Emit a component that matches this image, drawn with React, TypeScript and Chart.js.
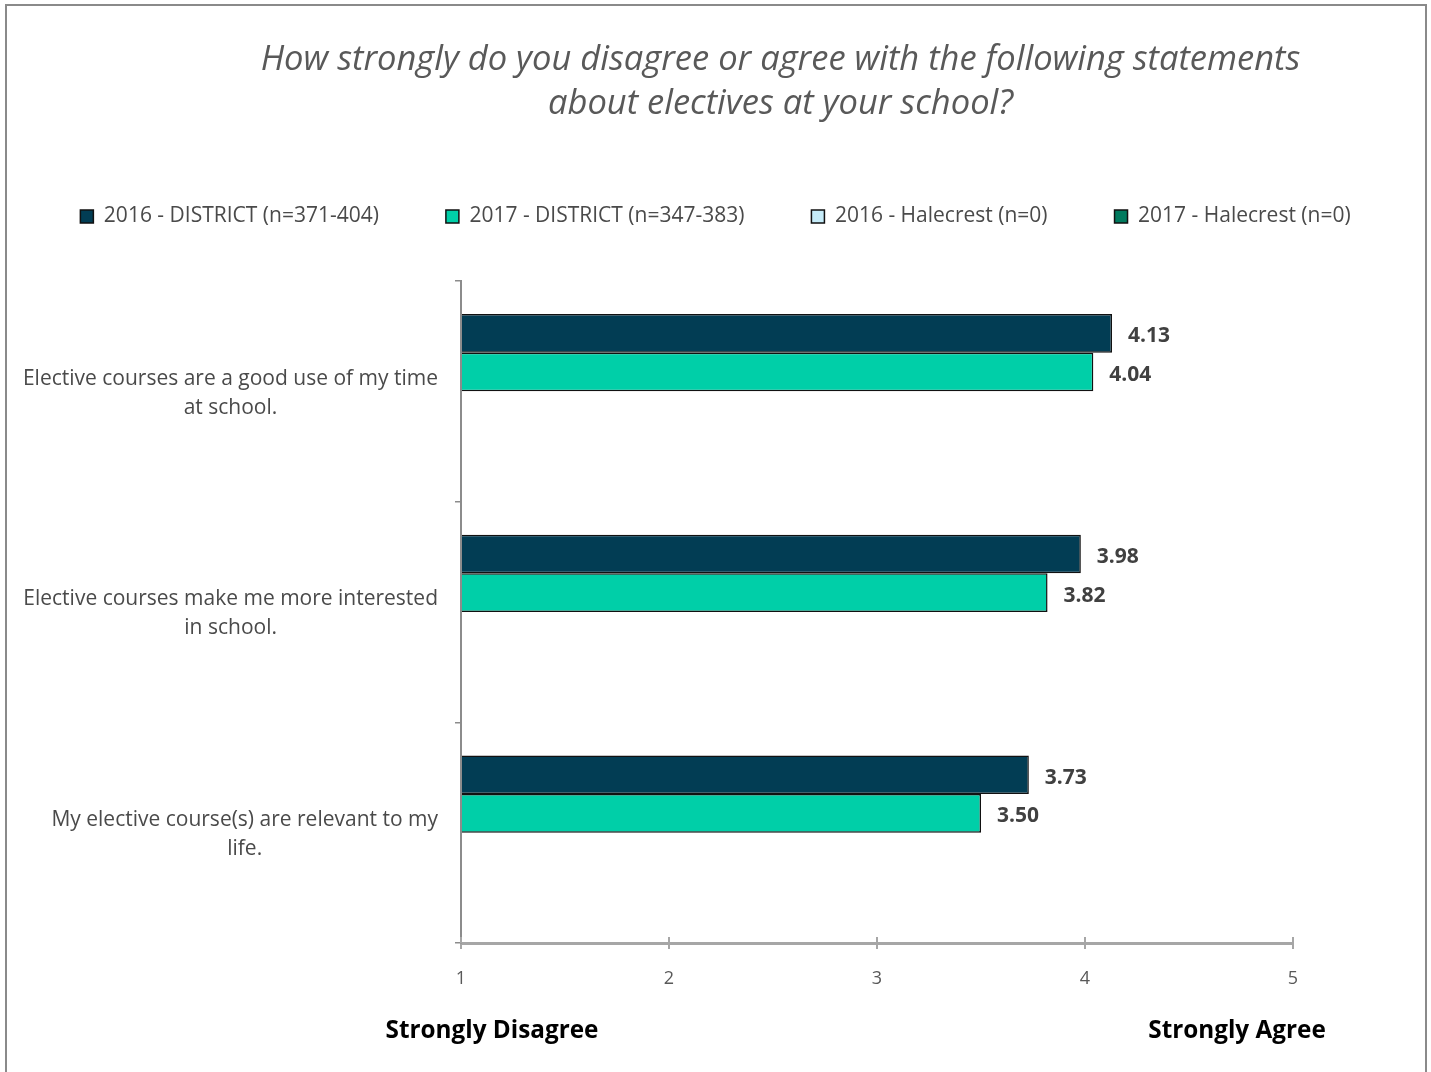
import React, { useEffect, useRef } from 'react';
import { Chart, registerables } from 'chart.js';

Chart.register(...registerables);

// ---------- data ----------
const titleLines = [
  'How strongly do you disagree or agree with the following statements',
  'about electives at your school?',
];
const categories = [
  ['Elective courses are a good use of my time', 'at school.'],
  ['Elective courses make me more interested', 'in school.'],
  ['My elective course(s) are relevant to my', 'life.'],
];
const seriesNames = [
  '2016 - DISTRICT (n=371-404)',
  '2017 - DISTRICT (n=347-383)',
  '2016 - Halecrest (n=0)',
  '2017 - Halecrest (n=0)',
];
const district2016 = [4.13, 3.98, 3.73];
const district2017 = [4.04, 3.82, 3.5];
const halecrest2016: (number | null)[] = [null, null, null];
const halecrest2017: (number | null)[] = [null, null, null];
const xMin = 1;
const xMax = 5;
const xStep = 1;
const scaleEndLabels = ['Strongly Disagree', 'Strongly Agree'];

const seriesColors = ['#023D54', '#00CFA8', '#C6ECF9', '#007A5E'];

const FONT = '"Open Sans"';

export default function App() {
  const ref = useRef<HTMLCanvasElement | null>(null);

  useEffect(() => {
    document.body.style.margin = '0';
    const canvas = ref.current;
    if (!canvas) return;

    const frame = {
      id: 'frame',
      beforeDraw(chart: any) {
        const ctx = chart.ctx;
        ctx.save();
        ctx.fillStyle = '#ffffff';
        ctx.fillRect(0, 0, chart.width, chart.height);
        ctx.strokeStyle = '#8a8a8a';
        ctx.lineWidth = 2;
        ctx.strokeRect(6, 5, 1420, 1100);
        ctx.restore();
      },
    };

    const layoutTweaks = {
      id: 'layoutTweaks',
      afterInit(chart: any) {
        const lg = chart.legend;
        if (lg && !lg.__patched) {
          const orig = lg.fit.bind(lg);
          lg.fit = function () {
            orig();
            this.height += 44;
          };
          lg.__patched = true;
        }
      },
      afterLayout(chart: any) {
        if (chart.titleBlock) chart.titleBlock.left = 130;
      },
    };

    const annotations = {
      id: 'annotations',
      afterDatasetsDraw(chart: any) {
        const ctx = chart.ctx;
        ctx.save();
        // value labels
        ctx.font = `bold 21px ${FONT}`;
        ctx.fillStyle = '#404040';
        ctx.textAlign = 'left';
        ctx.textBaseline = 'middle';
        chart.data.datasets.forEach((ds: any, di: number) => {
          const meta = chart.getDatasetMeta(di);
          meta.data.forEach((el: any, i: number) => {
            const v = ds.data[i];
            if (v == null) return;
            ctx.fillText(Number(v).toFixed(2), el.x + 16, el.y + 3);
          });
        });
        // upward halves of x tick marks
        const xs = chart.scales.x;
        const area = chart.chartArea;
        ctx.strokeStyle = '#A6A6A6';
        ctx.lineWidth = 2;
        xs.ticks.forEach((t: any) => {
          const px = xs.getPixelForValue(t.value);
          ctx.beginPath();
          ctx.moveTo(px, area.bottom - 6);
          ctx.lineTo(px, area.bottom);
          ctx.stroke();
        });
        ctx.restore();
      },
      afterDraw(chart: any) {
        const ctx = chart.ctx;
        const area = chart.chartArea;
        const ys = chart.scales.y;
        ctx.save();
        // category labels: right-aligned blocks, lines centered within block
        ctx.font = `21px ${FONT}`;
        ctx.fillStyle = '#4a4a4a';
        ctx.textBaseline = 'middle';
        ctx.textAlign = 'center';
        const lh = 29;
        chart.data.labels.forEach((lab: any, i: number) => {
          const lines: string[] = Array.isArray(lab) ? lab : [lab];
          const w = Math.max(...lines.map((l) => ctx.measureText(l).width));
          const right = area.left - 23;
          const cx = right - w / 2;
          const cy = ys.getPixelForValue(i) + 2;
          const y0 = cy - ((lines.length - 1) * lh) / 2;
          lines.forEach((l, k) => ctx.fillText(l, cx, y0 + k * lh));
        });
        // scale end labels
        ctx.font = `bold 24.3px ${FONT}`;
        ctx.fillStyle = '#000000';
        ctx.fillText(scaleEndLabels[0], area.left + 31, 1031);
        ctx.fillText(scaleEndLabels[1], area.right - 56, 1031);
        ctx.restore();
      },
    };

    const mk = (i: number, data: (number | null)[]) => ({
      label: seriesNames[i],
      data,
      backgroundColor: seriesColors[i],
      borderColor: '#111111',
      borderWidth: 1.5,
      base: xMin,
      categoryPercentage: 0.7,
      barPercentage: 1,
    });

    const chart = new Chart(canvas, {
      type: 'bar',
      data: {
        labels: categories as any,
        datasets: [
          mk(0, district2016),
          mk(1, district2017),
          mk(2, halecrest2016),
          mk(3, halecrest2017),
        ] as any,
      },
      plugins: [frame, layoutTweaks, annotations],
      options: {
        indexAxis: 'y',
        responsive: false,
        animation: false,
        devicePixelRatio: 1,
        layout: { padding: { left: 0, right: 0, top: 0, bottom: 0 } },
        font: { family: FONT } as any,
        plugins: {
          tooltip: { enabled: false },
          title: {
            display: true,
            text: titleLines,
            color: '#595959',
            font: { family: FONT, size: 34.5, style: 'italic', weight: 'normal', lineHeight: 1.275 },
            padding: { top: 38, bottom: 13 },
          },
          legend: {
            display: true,
            position: 'top',
            labels: {
              boxWidth: 13,
              boxHeight: 13,
              padding: 67,
              color: '#4a4a4a',
              font: { family: FONT, size: 21 },
            },
          },
        },
        scales: {
          x: {
            type: 'linear',
            position: 'bottom',
            min: xMin,
            max: xMax,
            ticks: {
              stepSize: xStep,
              color: '#595959',
              font: { family: FONT, size: 18 },
              padding: 19,
            },
            grid: {
              drawOnChartArea: false,
              drawTicks: true,
              tickLength: 6,
              color: '#A6A6A6',
              lineWidth: 2,
            },
            border: { display: true, color: '#A6A6A6', width: 3 },
            afterFit: (s: any) => {
              s.height = 129;
            },
          },
          y: {
            type: 'category',
            position: 'left',
            ticks: { display: false },
            grid: {
              drawOnChartArea: false,
              drawTicks: true,
              offset: true,
              tickLength: 6,
              color: '#8C8C8C',
              lineWidth: 1.5,
            },
            border: { display: true, color: '#8C8C8C', width: 2 },
            afterFit: (s: any) => {
              s.width = 461;
            },
          },
          yRight: {
            type: 'linear',
            axis: 'y',
            position: 'right',
            display: true,
            ticks: { display: false },
            grid: { display: false, drawTicks: false },
            border: { display: false },
            afterFit: (s: any) => {
              s.width = 138;
            },
          },
        },
      } as any,
    });

    return () => chart.destroy();
  }, []);

  return (
    <div style={{ width: 1431, height: 1072, position: 'relative' }}>
      <canvas ref={ref} width={1431} height={1072} style={{ display: 'block', width: 1431, height: 1072 }} />
    </div>
  );
}
